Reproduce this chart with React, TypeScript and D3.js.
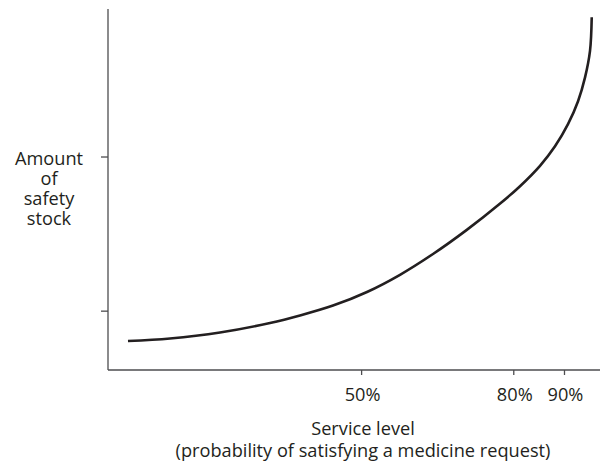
import React from "react";
import * as d3 from "d3";

// Service level (%) vs amount of safety stock (arbitrary units)
const serviceLevel = [3.94, 12.22, 22.08, 31.94, 37.85, 44.36, 51.06, 57.57, 64.08, 70.74, 77.25, 81.23, 85.17, 88.13, 90.69, 92.67, 94.05, 95.03, 95.37];
const safetyStock = [8.03, 8.73, 10.39, 13.02, 15.1, 17.84, 21.61, 26.37, 32.13, 38.81, 46.04, 50.91, 56.56, 61.97, 68.09, 74.46, 81.05, 88.39, 97.7];

const xTickValues = [50, 80, 90];
const xTickLabels = ["50%", "80%", "90%"];
const yTickValues = [16.3, 59];

const yLabelLines = ["Amount", "of", "safety", "stock"];
const xLabelLines = ["Service level", "(probability of satisfying a medicine request)"];

const W = 602;
const H = 464;
const FONT = "'Open Sans', sans-serif";
const FS = 18.2;
const INK = "#231f20";
const AXIS = "#4d4d4f";

export default function App() {
  const x = d3.scaleLinear().domain([0, 97]).range([108, 600]);
  const y = d3.scaleLinear().domain([0, 100]).range([370, 9]);

  const pts: [number, number][] = serviceLevel.map((s, i) => [s, safetyStock[i]]);
  const line = d3
    .line<[number, number]>()
    .x((d) => x(d[0]))
    .y((d) => y(d[1]))
    .curve(d3.curveCatmullRom.alpha(0.5));

  return (
    <svg
      width={W}
      height={H}
      style={{ position: "absolute", left: 0, top: 0, background: "#fff" }}
    >
      <rect width={W} height={H} fill="#fff" />
      {/* axes */}
      <line x1={x(0)} x2={x(0)} y1={y(100)} y2={y(0)} stroke={AXIS} strokeWidth={1.3} />
      <line x1={x(0)} x2={x(97)} y1={y(0)} y2={y(0)} stroke={AXIS} strokeWidth={1.3} />
      {yTickValues.map((v, i) => (
        <line key={"yt" + i} x1={x(0) - 7} x2={x(0)} y1={y(v)} y2={y(v)} stroke={AXIS} strokeWidth={1.3} />
      ))}
      {xTickValues.map((v, i) => (
        <g key={"xt" + i}>
          <line x1={x(v)} x2={x(v)} y1={y(0)} y2={y(0) + 5} stroke={AXIS} strokeWidth={1.3} />
          <text
            x={x(v) + 1}
            y={401}
            textAnchor="middle"
            fontFamily={FONT}
            fontSize={FS}
            fill={INK}
          >
            {xTickLabels[i]}
          </text>
        </g>
      ))}
      {/* curve */}
      <path d={line(pts) || ""} fill="none" stroke={INK} strokeWidth={2.6} strokeLinecap="butt" />
      {/* y label */}
      <text textAnchor="middle" fontFamily={FONT} fontSize={FS} fill={INK}>
        {yLabelLines.map((t, i) => (
          <tspan key={"yl" + i} x={49} y={165 + i * 20}>
            {t}
          </tspan>
        ))}
      </text>
      {/* x label */}
      <text textAnchor="middle" fontFamily={FONT} fontSize={FS} fill={INK}>
        {xLabelLines.map((t, i) => (
          <tspan key={"xl" + i} x={363} y={435 + i * 22}>
            {t}
          </tspan>
        ))}
      </text>
    </svg>
  );
}
